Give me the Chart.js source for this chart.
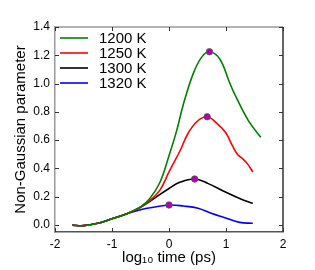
<!DOCTYPE html>
<html>
<head>
<meta charset="utf-8">
<script src="https://cdn.jsdelivr.net/npm/chart.js@4.4.1/dist/chart.umd.min.js"></script>
<style>
  html, body { margin: 0; padding: 0; background: #fff; }
  #wrap { width: 315px; height: 270px; }
</style>
</head>
<body>
<div id="wrap"><canvas id="ngpChart" width="315" height="270"></canvas></div>
<script>
// curve labels and colours
var seriesLabels = ['1200 K', '1250 K', '1300 K', '1320 K'];
var seriesColors = ['#008000', '#ff0000', '#000000', '#0000ff'];

// log10 time (ps) and non-Gaussian parameter
var t1200 = [-1.7, -1.5, -1.25, -1.0, -0.75, -0.5, -0.34, -0.16, 0.0, 0.13, 0.25, 0.42, 0.57, 0.71, 0.89, 1.05, 1.15, 1.39, 1.61];
var a1200 = [-0.002, -0.005, 0.012, 0.044, 0.077, 0.128, 0.185, 0.3, 0.49, 0.66, 0.85, 1.065, 1.185, 1.225, 1.174, 1.02, 0.927, 0.74, 0.62];

var t1250 = [-1.7, -1.5, -1.25, -1.0, -0.75, -0.5, -0.34, -0.16, 0.0, 0.2, 0.33, 0.5, 0.67, 0.85, 1.0, 1.1, 1.2, 1.3, 1.38, 1.47];
var a1250 = [-0.002, -0.005, 0.012, 0.044, 0.077, 0.125, 0.171, 0.246, 0.375, 0.53, 0.645, 0.735, 0.765, 0.715, 0.65, 0.57, 0.5, 0.465, 0.43, 0.375];

var t1300 = [-1.7, -1.5, -1.25, -1.0, -0.75, -0.5, -0.25, 0.0, 0.2, 0.45, 0.68, 0.98, 1.25, 1.47];
var a1300 = [-0.002, -0.005, 0.012, 0.044, 0.077, 0.125, 0.19, 0.258, 0.303, 0.325, 0.294, 0.235, 0.185, 0.153];

var t1320 = [-1.7, -1.5, -1.25, -1.0, -0.75, -0.5, -0.25, 0.0, 0.25, 0.51, 0.74, 0.98, 1.24, 1.47];
var a1320 = [-0.002, -0.005, 0.012, 0.044, 0.077, 0.108, 0.127, 0.141, 0.134, 0.118, 0.082, 0.051, 0.018, 0.012];

// maxima marked with dots
var peakTime = [0.71, 0.67, 0.45, 0.0];
var peakValue = [1.225, 0.765, 0.325, 0.141];

var xTicks = [-2, -1, 0, 1, 2];
var yTicks = [0, 0.2, 0.4, 0.6, 0.8, 1.0, 1.2, 1.4];

function toPoints(xs, ys) {
  return xs.map(function (x, i) { return { x: x, y: ys[i] }; });
}

var curveTimes = [t1200, t1250, t1300, t1320];
var curveValues = [a1200, a1250, a1300, a1320];

var datasets = [{
  label: 'peak',
  data: toPoints(peakTime, peakValue),
  showLine: false,
  pointRadius: 3.2,
  pointBackgroundColor: '#b000b0',
  pointBorderColor: '#555',
  pointBorderWidth: 0.8
}];
seriesLabels.forEach(function (lab, i) {
  datasets.push({
    label: lab,
    data: toPoints(curveTimes[i], curveValues[i]),
    showLine: true,
    borderColor: seriesColors[i],
    borderWidth: 1.6,
    pointRadius: 0,
    tension: 0.4
  });
});

// top/right frame and inward ticks on all four sides
var framePlugin = {
  id: 'frame',
  afterDraw: function (chart) {
    var ctx = chart.ctx, a = chart.chartArea;
    var xs = chart.scales.x, ys = chart.scales.y;
    ctx.save();
    ctx.lineWidth = 1.5;
    ctx.strokeStyle = '#999';
    ctx.beginPath(); ctx.moveTo(a.left, a.top); ctx.lineTo(a.right, a.top); ctx.stroke();
    ctx.strokeStyle = '#333';
    ctx.beginPath(); ctx.moveTo(a.right, a.top); ctx.lineTo(a.right, a.bottom); ctx.stroke();

    ctx.lineWidth = 1;
    ctx.strokeStyle = '#333';
    var len = 4;
    xTicks.forEach(function (v) {
      var px = Math.round(xs.getPixelForValue(v)) + 0.5;
      ctx.beginPath();
      ctx.moveTo(px, a.bottom); ctx.lineTo(px, a.bottom - len);
      ctx.moveTo(px, a.top); ctx.lineTo(px, a.top + len);
      ctx.stroke();
    });
    yTicks.forEach(function (v) {
      var py = Math.round(ys.getPixelForValue(v)) + 0.5;
      ctx.beginPath();
      ctx.moveTo(a.left, py); ctx.lineTo(a.left + len, py);
      ctx.moveTo(a.right, py); ctx.lineTo(a.right - len, py);
      ctx.stroke();
    });
    ctx.restore();
  }
};

// legend drawn inside the plot, top left
var legendPlugin = {
  id: 'insideLegend',
  afterDraw: function (chart) {
    var ctx = chart.ctx, a = chart.chartArea;
    ctx.save();
    ctx.font = '15px "Liberation Sans", Arial, sans-serif';
    ctx.textBaseline = 'middle';
    ctx.fillStyle = '#000';
    seriesLabels.forEach(function (lab, i) {
      var y = a.top + 11 + i * 15;
      ctx.strokeStyle = seriesColors[i];
      ctx.lineWidth = 1.6;
      ctx.beginPath();
      ctx.moveTo(a.left + 5, y); ctx.lineTo(a.left + 33, y);
      ctx.stroke();
      ctx.fillText(lab, a.left + 44, y + 1);
    });
    ctx.restore();
  }
};

var tickFont = { family: '"Liberation Sans", Arial, sans-serif', size: 12 };
var titleFont = { family: '"Liberation Sans", Arial, sans-serif', size: 15 };

var ctx = document.getElementById('ngpChart').getContext('2d');
var chart = new Chart(ctx, {
  type: 'scatter',
  data: { datasets: datasets },
  options: {
    responsive: false,
    animation: false,
    devicePixelRatio: 1,
    layout: { padding: { top: 27, right: 32, left: 0, bottom: 0 } },
    plugins: {
      legend: { display: false },
      tooltip: { enabled: false }
    },
    scales: {
      x: {
        type: 'linear',
        min: -2,
        max: 2,
        afterBuildTicks: function (s) { s.ticks = xTicks.map(function (v) { return { value: v }; }); },
        afterFit: function (s) { s.height = 38; },
        grid: { display: false, drawTicks: false },
        border: { display: true, color: '#555', width: 1.5 },
        ticks: {
          color: '#000',
          font: tickFont,
          padding: 5,
          callback: function (v) { return String(v); }
        },
        title: {
          display: true,
          text: 'log\u2081\u2080 time (ps)',
          color: '#000',
          font: titleFont,
          padding: { top: 0, bottom: 3 }
        }
      },
      y: {
        type: 'linear',
        min: -0.05,
        max: 1.4,
        afterBuildTicks: function (s) { s.ticks = yTicks.map(function (v) { return { value: v }; }); },
        afterFit: function (s) { s.width = 55; },
        grid: { display: false, drawTicks: false },
        border: { display: true, color: '#999', width: 1.5 },
        ticks: {
          color: '#000',
          font: tickFont,
          padding: 5,
          callback: function (v) { return v.toFixed(1); }
        },
        title: {
          display: true,
          text: 'Non-Gaussian parameter',
          color: '#000',
          font: titleFont,
          padding: { top: 12, bottom: 0 }
        }
      }
    }
  },
  plugins: [framePlugin, legendPlugin]
});
</script>
</body>
</html>
